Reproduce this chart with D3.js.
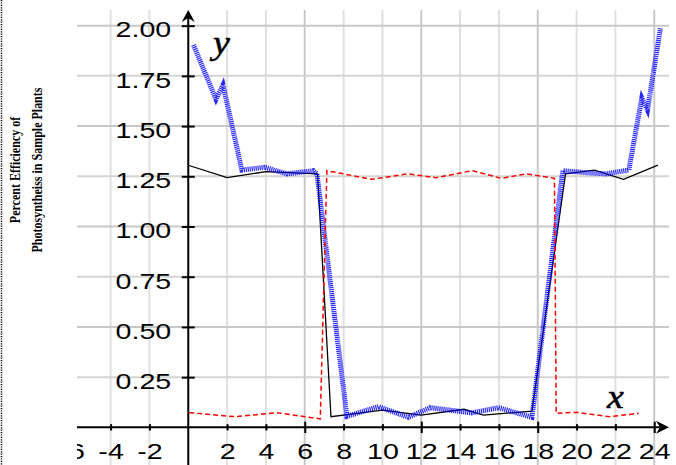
<!DOCTYPE html>
<html><head><meta charset="utf-8">
<script src="https://cdn.jsdelivr.net/npm/d3@7"></script>
<style>body{margin:0;background:#fff}svg{display:block}</style>
</head><body><svg id="c" width="676" height="465"></svg>
<script>
// ---- data ----
const blackX = [0, 2, 4, 6.66, 7.35, 10, 12, 14.2, 15.2, 17.7, 19.43, 20.92, 22.42, 24.19];
const blackY = [1.305, 1.243, 1.273, 1.262, 0.053, 0.086, 0.061, 0.09, 0.061, 0.081, 1.262, 1.281, 1.235, 1.306];
const blueX = [0.27, 1.43, 1.79, 2.76, 3.93, 5.08, 6.45, 6.63, 8.17, 9.8, 11.34, 12.46, 14.09, 14.6, 15.98, 17.7, 19.29, 20.5, 21.5, 22.69, 23.36, 23.65, 24.32];
const blueY = [1.904, 1.633, 1.705, 1.281, 1.295, 1.262, 1.278, 1.262, 0.055, 0.103, 0.05, 0.098, 0.078, 0.072, 0.098, 0.05, 1.278, 1.268, 1.262, 1.281, 1.64, 1.58, 1.987];
const redX = [0.05, 2.42, 4.57, 6.8, 7.14, 9.44, 11.31, 12.77, 14.62, 16.12, 17.4, 18.86, 18.95, 19.98, 21.7, 23.2];
const redY = [0.073, 0.053, 0.073, 0.042, 1.278, 1.235, 1.262, 1.243, 1.278, 1.24, 1.262, 1.24, 0.07, 0.075, 0.053, 0.07];
const xTickValues = [-6, -4, -2, 2, 4, 6, 8, 10, 12, 14, 16, 18, 20, 22, 24];
const yTickValues = [0.25, 0.5, 0.75, 1.0, 1.25, 1.5, 1.75, 2.0];
const xGridValues = [-4, -2, 2, 4, 6, 8, 10, 12, 14, 16, 18, 20, 22, 24];
const yGridValues = [0.25, 0.5, 0.75, 1.0, 1.25, 1.5, 1.75, 2.0];
const yTitle1 = "Percent Efficiency of";
const yTitle2 = "Photosyntheiss in Sample Plants";

// ---- drawing ----
const svg = d3.select("#c");
const x = d3.scaleLinear().domain([-5.73, 24.76]).range([77, 669]);
const y = d3.scaleLinear().domain([-0.19, 2.078]).range([465.5, 10]);

svg.append("defs").append("clipPath").attr("id", "pc")
  .append("rect").attr("x", 77).attr("y", 0).attr("width", 599).attr("height", 465);

// dotted left border
svg.append("line").attr("x1", 1.5).attr("x2", 1.5).attr("y1", 0).attr("y2", 465)
  .attr("stroke", "#000").attr("stroke-width", 1.5).attr("stroke-dasharray", "1.2,1.2");

const g = svg.append("g").attr("clip-path", "url(#pc)");

// grid
g.selectAll(".gx").data(xGridValues).join("line")
  .attr("x1", d => x(d)).attr("x2", d => x(d)).attr("y1", 10).attr("y2", 465)
  .attr("stroke", d => d % 6 === 0 ? "#c8c8c8" : "#e0e0e0").attr("stroke-width", 2);
g.selectAll(".gy").data(yGridValues).join("line")
  .attr("x1", 77).attr("x2", 669).attr("y1", d => y(d)).attr("y2", d => y(d))
  .attr("stroke", d => (d * 2) % 1 === 0 ? "#c8c8c8" : "#d4d4d4").attr("stroke-width", 2);

// series
const line = d3.line().x(d => x(d[0])).y(d => y(d[1]));
g.append("path").datum(d3.zip(blackX, blackY)).attr("d", line)
  .attr("fill", "none").attr("stroke", "#000").attr("stroke-width", 1.3);
g.append("path").datum(d3.zip(blueX, blueY)).attr("d", line)
  .attr("fill", "none").attr("stroke", "#0000ff").attr("stroke-width", 5)
  .attr("stroke-dasharray", "1.2,0.8").attr("opacity", 0.85);
g.append("path").datum(d3.zip(redX, redY)).attr("d", line)
  .attr("fill", "none").attr("stroke", "#ff0000").attr("stroke-width", 1.5)
  .attr("stroke-dasharray", "5,3");

// x axis
const xa = g.append("g").attr("transform", `translate(0,${y(0)})`)
  .call(d3.axisBottom(x).tickValues(xTickValues).tickSize(0).tickFormat(d => String(d)));
xa.select(".domain").remove();
xa.selectAll(".tick line")
  .attr("y1", d => d % 6 === 0 ? -5.7 : -3.2).attr("y2", d => d % 6 === 0 ? 5.7 : 3.2)
  .attr("stroke", "#000").attr("stroke-width", 2);
xa.selectAll(".tick text").attr("y", 0).attr("dy", 0)
  .attr("transform", "translate(0,31.7) scale(1.3,1)")
  .attr("font-family", "'Liberation Sans', Arial, sans-serif").attr("font-size", 22).attr("fill", "#000");
xa.append("line").attr("x1", 77).attr("x2", 666).attr("y1", 0).attr("y2", 0)
  .attr("stroke", "#000").attr("stroke-width", 2);
xa.append("path").attr("transform", "translate(669,0)")
  .attr("d", "M0,0 L-13,-6.5 L-9,0 L-13,6.5 Z").attr("fill", "#000");

// y axis
const ya = g.append("g").attr("transform", `translate(${x(0)},0)`)
  .call(d3.axisLeft(y).tickValues(yTickValues).tickSize(0).tickFormat(d3.format(".2f")));
ya.select(".domain").remove();
ya.selectAll(".tick line").attr("x1", -6.5).attr("x2", 6.5)
  .attr("stroke", "#000").attr("stroke-width", 2);
ya.selectAll(".tick text").attr("x", 0).attr("dy", 0).attr("text-anchor", "end")
  .attr("transform", "translate(-17,11.3) scale(1.3,1)")
  .attr("font-family", "'Liberation Sans', Arial, sans-serif").attr("font-size", 22).attr("fill", "#000");
ya.append("line").attr("x1", 0).attr("x2", 0).attr("y1", 13).attr("y2", 465)
  .attr("stroke", "#000").attr("stroke-width", 2);
ya.append("path").attr("transform", "translate(0,10)")
  .attr("d", "M0,0 L-6.5,12 L0,8 L6.5,12 Z").attr("fill", "#000");

// axis names
svg.append("text").attr("transform", "translate(213,53.5) scale(1.15,1)").text("y")
  .attr("font-family", "'Liberation Serif', 'Times New Roman', serif").attr("font-style", "italic")
  .attr("font-size", 33).attr("fill", "#000").attr("stroke", "#000").attr("stroke-width", 0.5);
svg.append("text").attr("transform", "translate(607,408.3) scale(1.15,1)").text("x")
  .attr("font-family", "'Liberation Serif', 'Times New Roman', serif").attr("font-style", "italic")
  .attr("font-size", 33).attr("fill", "#000").attr("stroke", "#000").attr("stroke-width", 0.5);

// y title
[[yTitle1, 19.5], [yTitle2, 41.5]].forEach(([t, bx]) => {
  svg.append("text").attr("transform", `translate(${bx},170) scale(1.3,1) rotate(-90)`)
    .attr("text-anchor", "middle").text(t)
    .attr("font-family", "'Liberation Serif', 'Times New Roman', serif").attr("font-weight", "bold")
    .attr("font-size", 12).attr("fill", "#000");
});
</script>
</body></html>
